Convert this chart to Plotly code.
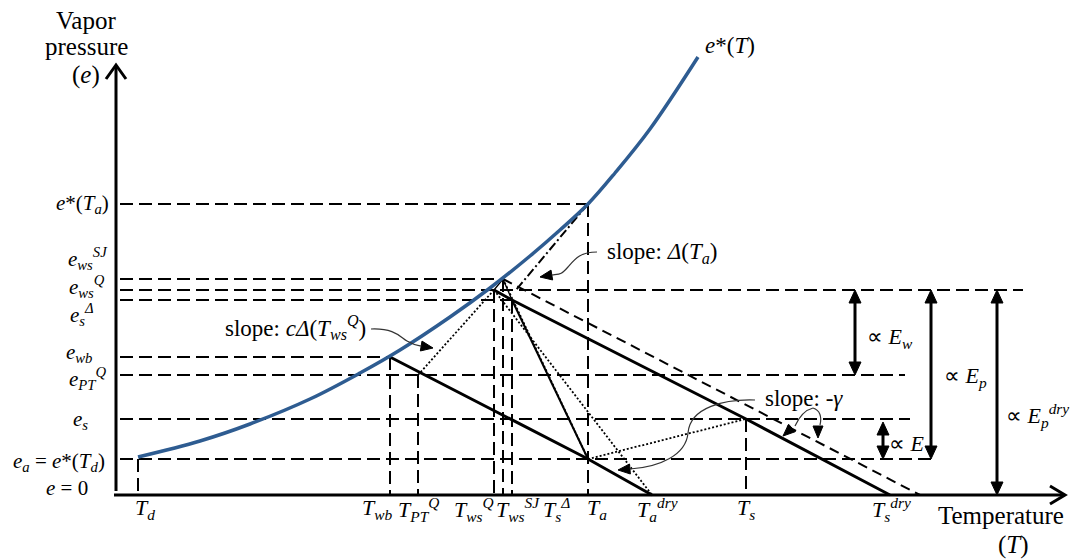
import math
import plotly.graph_objects as go

# ---------------- data (diagram units: T along the axis, e above the axis) -------------
curve_T = [138, 200, 250, 310, 360, 400, 450, 490, 530, 560, 588, 615, 650, 698]
curve_e = [38, 54, 71, 96, 122, 145, 178, 207, 239, 265, 291, 322, 366, 438]

# characteristic temperatures
T_d, T_wb, T_PT, T_wsQ, T_wsSJ, T_sD = 138, 390, 418, 494, 503, 512
T_a, T_adry, T_s, T_sdry, T_sdry2 = 588, 652, 746, 890, 920
# characteristic vapour pressures
e_Ta, e_wsSJ, e_wsQ, e_sD, e_wb, e_PT, e_s, e_a = 291, 216, 205, 195, 138, 120, 76, 36

# horizontal dashed reference levels and where they stop
h_levels = [e_Ta, e_wsSJ, e_wsQ, e_sD, e_wb, e_PT, e_s, e_a]
h_ends = [T_a, T_wsSJ, 1023, T_sD, T_wb, 905, 910, 933]
# vertical dashed drop lines
v_T = [T_d, T_wb, T_PT, T_wsQ, T_wsSJ, T_sD, T_a, T_s]
v_top = [e_a, e_wb, e_PT, e_wsQ, e_wsSJ, e_sD, e_Ta, e_s]

# flux arrows: T position, top level, bottom level
flux_T = [855, 931, 883, 997]
flux_top = [e_wsQ, e_wsQ, e_s - 3, e_wsQ]
flux_bot = [e_PT, e_a, e_a, 0]

y_labels = ["<i>e</i>*(<i>T<sub>a</sub></i>)",
            "<i>e<sub>ws</sub><sup>SJ</sup></i>",
            "<i>e<sub>ws</sub><sup>Q</sup></i>",
            "<i>e<sub>s</sub><sup>Δ</sup></i>",
            "<i>e<sub>wb</sub></i>",
            "<i>e<sub>PT</sub><sup>Q</sup></i>",
            "<i>e<sub>s</sub></i>",
            "<i>e<sub>a</sub></i> = <i>e</i>*(<i>T<sub>d</sub></i>)",
            "<i>e</i> = 0"]
y_label_x = [82, 88, 87, 82, 79, 87, 80, 59, 67]
y_label_e = [291, 237, 209, 181, 142, 117, 75, 33, 7]

x_labels = ["<i>T<sub>d</sub></i>", "<i>T<sub>wb</sub></i>", "<i>T<sub>PT</sub><sup>Q</sup></i>",
            "<i>T<sub>ws</sub><sup>Q</sup></i>", "<i>T<sub>ws</sub><sup>SJ</sup></i>",
            "<i>T<sub>s</sub><sup>Δ</sup></i>", "<i>T<sub>a</sub></i>",
            "<i>T<sub>a</sub><sup>dry</sup></i>", "<i>T<sub>s</sub></i>",
            "<i>T<sub>s</sub><sup>dry</sup></i>"]
x_label_T = [145, 377, 418, 474, 518, 556, 597, 657, 746, 891]
x_label_e = -14

BLUE = "#2E5C91"
FONT = "Liberation Serif"
FS = 22
DASH = "13px,6px"

fig = go.Figure()


def line(xs, ys, width=2, dash="solid", color="black"):
    fig.add_trace(go.Scatter(x=xs, y=ys, mode="lines", hoverinfo="skip", showlegend=False,
                             line=dict(color=color, width=width, dash=dash)))


def head(tip, d, L=12, W=5):
    n = math.hypot(*d)
    ux, uy = d[0] / n, d[1] / n
    bx, by = tip[0] - ux * L, tip[1] - uy * L
    px, py = -uy, ux
    path = (f"M {tip[0]},{tip[1]} L {bx + px * W},{by + py * W} "
            f"L {bx - px * W},{by - py * W} Z")
    fig.add_shape(type="path", path=path, xref="x", yref="y",
                  fillcolor="black", line=dict(color="black", width=1))


def curve(path, width=1.2):
    fig.add_shape(type="path", path=path, xref="x", yref="y",
                  line=dict(color="#333333", width=width))


# dashed reference lines
for lev, end in zip(h_levels, h_ends):
    line([120, end], [lev, lev], width=2, dash=DASH)
for t, top in zip(v_T, v_top):
    line([t, t], [top, 0], width=2, dash=DASH)

# psychrometric (slope -gamma) lines
line([T_wb, T_a, T_adry], [e_wb, e_a, 0], width=3)
line([T_wsQ, T_sD, T_s, T_sdry], [e_wsQ, e_sD, e_s, 0], width=3)
line([T_wsSJ, T_sdry2], [e_wsSJ, 0], width=2, dash="10px,6px")
# other construction lines
line([T_sD, T_a], [e_sD, e_a], width=2)
line([T_wsQ, T_wsSJ, T_sD], [e_wsQ, e_wsSJ, e_sD], width=1.3)
line([T_PT, T_wsQ], [e_PT, e_wsQ], width=1.8, dash="2px,2px")
line([T_wsQ, T_adry], [e_wsQ, 0], width=1.8, dash="2px,2px")
line([T_wsSJ, T_a], [e_wsSJ, e_a], width=1.8, dash="2px,2px")
line([T_a, T_s], [e_a, e_s], width=1.8, dash="2px,2px")
line([T_a, 516], [e_Ta, e_wsQ], width=2, dash="9px,3px,2px,3px")

# saturation vapour pressure curve
fig.add_trace(go.Scatter(x=curve_T, y=curve_e, mode="lines", hoverinfo="skip", showlegend=False,
                         line=dict(color=BLUE, width=3.5, shape="spline", smoothing=1.0)))

# axes
line([116, 116], [4, 429], width=3)
line([106, 116, 126], [416, 430, 416], width=3)
line([114, 1064], [0, 0], width=3)
line([1050, 1065, 1050], [9, 0, -9], width=3)

# flux double arrows
for t, top, bot in zip(flux_T, flux_top, flux_bot):
    line([t, t], [top - 10, bot + 10], width=3)
    head((t, top), (0, 1), L=13, W=6)
    head((t, bot), (0, -1), L=13, W=6)

# curved annotation connectors
curve("M 597,243 C 580,243 575,236 568,228 S 560,221 552,220")
head((540, 218), (-12, -2), L=12, W=5)
curve("M 371,166 C 395,167 400,158 407,154 S 415,150 421,149")
head((433, 147), (12, -2), L=12, W=5)
curve("M 755,95 C 725,96 690,88 688,62 C 686,40 660,28 630,26")
head((618, 25), (-12, -1), L=12, W=5)
curve("M 813,87 C 805,85 800,80 795,69")
head((783, 59), (-10, -9), L=12, W=5)
curve("M 813,87 C 820,85 822,78 820,70")
head((818, 57), (0, -1), L=12, W=5)

annotations = []


def text(x, y, s, size=FS, xanchor="center"):
    annotations.append(dict(x=x, y=y, xref="x", yref="y", text=s, showarrow=False,
                            xanchor=xanchor, yanchor="middle",
                            font=dict(family=FONT, size=size, color="black")))


for s, x, y in zip(y_labels, y_label_x, y_label_e):
    text(x, y, s, size=21)
for s, x in zip(x_labels, x_label_T):
    text(x, x_label_e, s)

text(86, 475, "Vapor", size=25)
text(86, 449, "pressure", size=25)
text(86, 420, "(<i>e</i>)", size=25)
text(730, 450, "<i>e</i>*(<i>T</i>)", size=23)
text(1001, -20, "Temperature", size=25)
text(1013, -50, "(<i>T</i>)", size=25)
text(662, 242, "slope: <i>Δ</i>(<i>T<sub>a</sub></i>)", size=23)
text(295, 168, "slope: <i>cΔ</i>(<i>T<sub>ws</sub><sup>Q</sup></i>)", size=23)
text(804, 97, "slope: -<i>γ</i>", size=23)
text(890, 157, "∝ <i>E<sub>w</sub></i>")
text(965, 118, "∝ <i>E<sub>p</sub></i>")
text(1037, 80, "∝ <i>E<sub>p</sub><sup>dry</sup></i>")
text(907, 52, "∝ <i>E</i>")

fig.update_layout(
    width=1070, height=560,
    margin=dict(l=0, r=0, t=0, b=0),
    paper_bgcolor="white", plot_bgcolor="white",
    xaxis=dict(range=[0, 1070], visible=False, fixedrange=True),
    yaxis=dict(range=[-65, 495], visible=False, fixedrange=True),
    annotations=annotations,
    showlegend=False,
)

fig.write_html("out.html",
               config={"displayModeBar": False},
               post_script="document.body.style.margin='0';"
                           "document.body.style.overflow='hidden';")
